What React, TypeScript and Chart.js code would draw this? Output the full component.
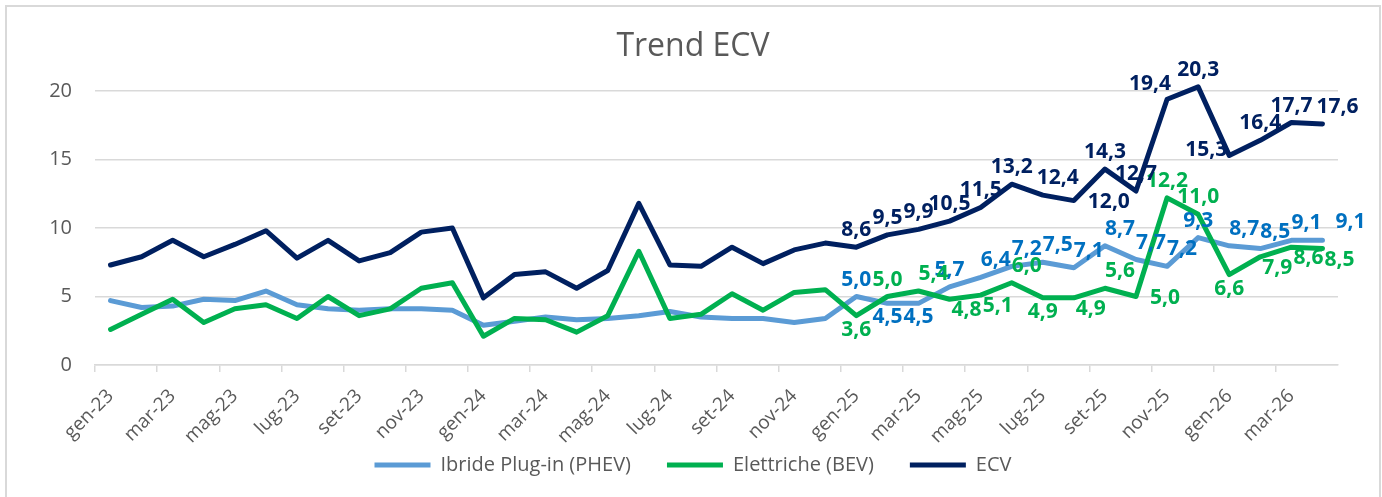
import React, { useEffect, useRef } from 'react';
import { Chart, registerables } from 'chart.js';

Chart.register(...registerables);

const months = [
  'gen-23', 'feb-23', 'mar-23', 'apr-23', 'mag-23', 'giu-23', 'lug-23', 'ago-23', 'set-23', 'ott-23', 'nov-23', 'dic-23',
  'gen-24', 'feb-24', 'mar-24', 'apr-24', 'mag-24', 'giu-24', 'lug-24', 'ago-24', 'set-24', 'ott-24', 'nov-24', 'dic-24',
  'gen-25', 'feb-25', 'mar-25', 'apr-25', 'mag-25', 'giu-25', 'lug-25', 'ago-25', 'set-25', 'ott-25', 'nov-25', 'dic-25',
  'gen-26', 'feb-26', 'mar-26', 'apr-26',
];

const phevValues = [
  4.7, 4.2, 4.3, 4.8, 4.7, 5.4, 4.4, 4.1, 4.0, 4.1, 4.1, 4.0,
  2.9, 3.2, 3.5, 3.3, 3.4, 3.6, 3.9, 3.5, 3.4, 3.4, 3.1, 3.4,
  5.0, 4.5, 4.5, 5.7, 6.4, 7.2, 7.5, 7.1, 8.7, 7.7, 7.2, 9.3, 8.7, 8.5, 9.1, 9.1,
];

const bevValues = [
  2.6, 3.7, 4.8, 3.1, 4.1, 4.4, 3.4, 5.0, 3.6, 4.1, 5.6, 6.0,
  2.1, 3.4, 3.3, 2.4, 3.6, 8.3, 3.4, 3.7, 5.2, 4.0, 5.3, 5.5,
  3.6, 5.0, 5.4, 4.8, 5.1, 6.0, 4.9, 4.9, 5.6, 5.0, 12.2, 11.0, 6.6, 7.9, 8.6, 8.5,
];

const ecvValues = [
  7.3, 7.9, 9.1, 7.9, 8.8, 9.8, 7.8, 9.1, 7.6, 8.2, 9.7, 10.0,
  4.9, 6.6, 6.8, 5.6, 6.9, 11.8, 7.3, 7.2, 8.6, 7.4, 8.4, 8.9,
  8.6, 9.5, 9.9, 10.5, 11.5, 13.2, 12.4, 12.0, 14.3, 12.7, 19.4, 20.3, 15.3, 16.4, 17.7, 17.6,
];

const seriesNames = ['Ibride Plug-in (PHEV)', 'Elettriche (BEV)', 'ECV'];
const yMin = 0;
const yMax = 20;
const yStep = 5;

// data labels are shown from this index onward (gen-25)
const labelStart = 24;
// label placement codes: a above, ar above-right, al above-left, b below, br below-right, r right, rr right-above, l left
const phevLabelPos = ['a', 'b', 'b', 'a', 'ar', 'ar', 'ar', 'ar', 'ar', 'ar', 'ar', 'a', 'ar', 'ar', 'ar', 'rr'];
const bevLabelPos = ['b', 'a', 'ar', 'br', 'br', 'ar', 'b', 'br', 'ar', 'r', 'a', 'a', 'b', 'br', 'br', 'br'];
const ecvLabelPos = ['a', 'a', 'a', 'a', 'a', 'a', 'ar', 'r', 'a', 'a', 'al', 'a', 'l', 'a', 'a', 'ar'];

const FONT = '"Open Sans", "Noto Sans", sans-serif';
const TEXT_GRAY = '#595959';
const GRID = '#d9d9d9';

const fmt = (v: number) => v.toFixed(1).replace('.', ',');

const frameAndLabels = {
  id: 'frameAndLabels',
  beforeDraw(chart: any) {
    const ctx = chart.ctx;
    ctx.save();
    ctx.fillStyle = '#ffffff';
    ctx.fillRect(0, 0, chart.width, chart.height);
    ctx.strokeStyle = GRID;
    ctx.lineWidth = 2;
    ctx.strokeRect(6, 6, 1374, 520);
    ctx.restore();
  },
  afterLayout(chart: any) {
    // let the rotated month labels use the space above the legend (avoid clipping)
    const xs = chart.scales.x;
    if (xs) {
      xs.bottom = xs.top + 110;
      xs.height = 110;
    }
  },
  afterDatasetsDraw(chart: any) {
    const ctx = chart.ctx;
    ctx.save();
    ctx.font = `bold 21px ${FONT}`;
    ctx.textBaseline = 'alphabetic';
    chart.data.datasets.forEach((ds: any, di: number) => {
      const meta = chart.getDatasetMeta(di);
      const posArr: string[] = ds.labelPos;
      ctx.fillStyle = ds.labelColor;
      for (let i = labelStart; i < ds.data.length; i++) {
        const pt = meta.data[i];
        if (!pt) continue;
        const p = posArr[i - labelStart];
        const txt = fmt(ds.data[i]);
        let x = pt.x;
        let y = pt.y;
        ctx.textAlign = 'center';
        switch (p) {
          case 'a': y -= 11; break;
          case 'ar': x += 15; y -= 11; break;
          case 'al': x -= 17; y -= 9; break;
          case 'b': y += 20; break;
          case 'br': x += 17; y += 17; break;
          case 'r': ctx.textAlign = 'left'; x += 14; y += 7; break;
          case 'rr': ctx.textAlign = 'left'; x += 13; y -= 12; break;
          case 'l': ctx.textAlign = 'right'; x -= 2; y += 1; break;
        }
        ctx.fillText(txt, x, y);
      }
    });
    ctx.restore();
  },
};

export default function App() {
  const canvasRef = useRef<HTMLCanvasElement | null>(null);

  useEffect(() => {
    if (!canvasRef.current) return;
    const mkDs = (label: string, data: number[], color: string, labelColor: string, labelPos: string[], order: number) => ({
      label,
      data,
      borderColor: color,
      backgroundColor: color,
      borderWidth: 5,
      pointRadius: 0,
      pointHoverRadius: 0,
      tension: 0,
      borderJoinStyle: 'round',
      borderCapStyle: 'round',
      clip: false,
      order,
      labelColor,
      labelPos,
    });

    const chart = new Chart(canvasRef.current, {
      type: 'line',
      data: {
        labels: months,
        datasets: [
          mkDs(seriesNames[0], phevValues, '#5B9BD5', '#0070C0', phevLabelPos, 3),
          mkDs(seriesNames[1], bevValues, '#00B050', '#00B050', bevLabelPos, 2),
          mkDs(seriesNames[2], ecvValues, '#002060', '#002060', ecvLabelPos, 1),
        ] as any,
      },
      options: {
        animation: false,
        responsive: true,
        maintainAspectRatio: false,
        events: [],
        layout: { padding: { left: 48, right: 44, top: 0, bottom: 12 } },
        plugins: {
          tooltip: { enabled: false },
          title: {
            display: true,
            text: 'Trend ECV',
            color: TEXT_GRAY,
            font: { family: FONT, size: 32, weight: 'normal' as any },
            padding: { top: 28, bottom: 24.6 },
          },
          legend: {
            display: true,
            position: 'bottom',
            labels: {
              color: TEXT_GRAY,
              font: { family: FONT, size: 20 },
              boxWidth: 56,
              boxHeight: 5,
              padding: 36,
              generateLabels: (chart: any) =>
                chart.data.datasets.map((ds: any, i: number) => ({
                  text: ds.label,
                  fillStyle: ds.borderColor,
                  strokeStyle: ds.borderColor,
                  lineWidth: 0,
                  hidden: false,
                  datasetIndex: i,
                  fontColor: TEXT_GRAY,
                })),
            },
          },
        },
        scales: {
          x: {
            type: 'category',
            offset: true,
            afterFit: (scale: any) => {
              scale.height = 54;
            },
            grid: {
              display: true,
              drawOnChartArea: false,
              drawTicks: true,
              offset: true,
              tickLength: 7,
              lineWidth: 1.5,
              tickColor: (ctx: any) => (ctx.index % 2 === 0 ? GRID : 'rgba(0,0,0,0)'),
              color: (ctx: any) => (ctx.index % 2 === 0 ? GRID : 'rgba(0,0,0,0)'),
            },
            border: { display: true, color: GRID, width: 1.5 },
            ticks: {
              autoSkip: false,
              maxRotation: 45,
              minRotation: 45,
              padding: 13,
              color: TEXT_GRAY,
              font: { family: FONT, size: 19 },
              callback: (_v: any, idx: number) => (idx % 2 === 0 ? months[idx] : ''),
            },
          },
          y: {
            min: yMin,
            max: yMax,
            afterFit: (scale: any) => {
              scale.width = 47;
            },
            grid: { color: GRID, lineWidth: 1.5, drawTicks: false },
            border: { display: false },
            ticks: {
              stepSize: yStep,
              padding: 23,
              color: TEXT_GRAY,
              font: { family: FONT, size: 20 },
            },
          },
        },
      },
      plugins: [frameAndLabels],
    } as any);

    return () => chart.destroy();
  }, []);

  return (
    <div style={{ position: 'absolute', left: 0, top: 0, width: 1382, height: 497, background: '#fff' }}>
      <canvas ref={canvasRef} />
    </div>
  );
}
